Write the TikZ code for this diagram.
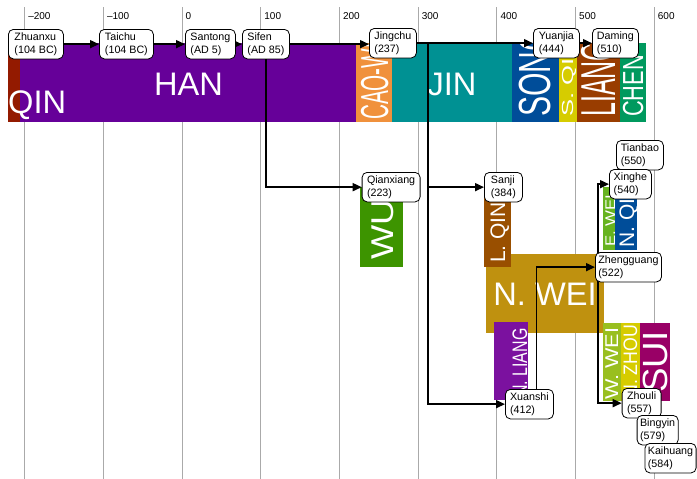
\documentclass[tikz,border=0pt]{standalone}
\usepackage{fontspec}
\setmainfont{Liberation Sans}
\usepackage{graphicx}
\usetikzlibrary{arrows.meta}
\pgfdeclarelayer{back}
\pgfdeclarelayer{mid}
\pgfsetlayers{back,mid,main}
\definecolor{cQin}{HTML}{931A00}
\definecolor{cHan}{HTML}{660099}
\definecolor{cCaoWei}{HTML}{F0913C}
\definecolor{cJin}{HTML}{009193}
\definecolor{cSong}{HTML}{004D99}
\definecolor{cSQi}{HTML}{D6CC00}
\definecolor{cLiang}{HTML}{993D00}
\definecolor{cChen}{HTML}{00995E}
\definecolor{cWu}{HTML}{3D9400}
\definecolor{cLQin}{HTML}{994F00}
\definecolor{cNWei}{HTML}{BF910F}
\definecolor{cEWei}{HTML}{66B31F}
\definecolor{cNQi}{HTML}{004D99}
\definecolor{cNLiang}{HTML}{7B119F}
\definecolor{cWWei}{HTML}{99BF1F}
\definecolor{cNZhou}{HTML}{D6CC00}
\definecolor{cSui}{HTML}{990066}
\definecolor{cGrid}{HTML}{AAAAAA}
\newcommand\vtext[6]{\begin{scope}\clip #2; \node[vt] (#1) at #3 {\fontsize{#4}{#4}\selectfont\scalebox{#5}[1]{#6}};\end{scope}}
\begin{document}
\begin{tikzpicture}[x=1pt,y=-1pt,
  grid/.style={draw=cGrid, line width=0.9pt},
  axl/.style={anchor=base west, inner sep=0pt, font=\fontsize{10}{10}\selectfont},
  big/.style={text=white, inner sep=0pt, font=\fontsize{32.6}{32.6}\selectfont},
  vt/.style={text=white, inner sep=0pt, rotate=90, anchor=base west},
  lbl/.style={draw=black, line width=0.8pt, fill=white, rounded corners=5pt, anchor=north west,
    align=left, inner xsep=3pt, inner ysep=0pt, minimum height=29.5pt,
    font=\fontsize{10.7}{12.8}\selectfont},
  conn/.style={draw=black, line width=1.6pt, -{Triangle[length=9pt,width=8pt]}}]
\useasboundingbox (0,0) rectangle (697,479);
\begin{pgfonlayer}{back}
\fill[white] (0,0) rectangle (697,479);
% grid
\foreach \x/\l [count=\i] in {24.6/{–200},103.3/{–100},182/{0},260.7/{100},339.4/{200},418.1/{300},496.8/{400},575.5/{500},654.2/{600}}{
  \draw[grid] (\x,7) -- (\x,479);
  \node[axl] (ax\i) at (\x+3.5,19.3) {\l};
}
% top row bands
\fill[cQin] (8,43) rectangle (20,122);
\fill[cHan] (20,43) rectangle (356,122);
\fill[cCaoWei] (356,43) rectangle (392,122);
\fill[cJin] (392,43) rectangle (512,122);
\fill[cSong] (512,43) rectangle (559,122);
\fill[cSQi] (559,43) rectangle (577,122);
\fill[cLiang] (577,43) rectangle (620,122);
\fill[cChen] (620,43) rectangle (646,122);
\node[big, anchor=base west] (tQin) at (8,113) {QIN};
\node[big, anchor=base] (tHan) at (188.5,95) {HAN};
\node[big, anchor=base] (tJin) at (452,95) {JIN};
\vtext{tCaoWei}{(356,43) rectangle (392,122)}{(388,120)}{39}{0.53}{CAO-WEI}
\vtext{tSong}{(512,43) rectangle (559,122)}{(550,117)}{45}{0.67}{SONG}
\vtext{tSQi}{(559,43) rectangle (577,122)}{(573,117)}{16}{1.6}{S. QI}
\vtext{tLiang}{(577,43) rectangle (620,122)}{(615,117)}{49}{0.51}{LIANG}
\vtext{tChen}{(620,43) rectangle (646,122)}{(643,117)}{29}{0.75}{CHEN}
% second row bands
\fill[cWu] (360,187) rectangle (403,267);
\vtext{tWu}{(360,187) rectangle (403,267)}{(393,260)}{31.5}{1.15}{WU}
\fill[cNWei] (486,254) rectangle (604,333);
\node[big, anchor=base] (tNWei) at (545,305) {N. WEI};
\fill[cLQin] (484,187) rectangle (511,267);
\vtext{tLQin}{(484,187) rectangle (511,267)}{(505,263)}{21}{1}{L. QIN}
\fill[cEWei] (603,187) rectangle (615,250);
\vtext{tEWei}{(603,187) rectangle (615,250)}{(615,247)}{14}{1.2}{E. WEI}
\fill[cNQi] (615,187) rectangle (637,250);
\vtext{tNQi}{(615,187) rectangle (637,250)}{(634,248)}{21}{1}{N. QI}
\fill[cNLiang] (494,322) rectangle (528,400);
\vtext{tNLiang}{(494,322) rectangle (528,400)}{(527,397)}{21}{0.76}{N. LIANG}
\fill[cWWei] (603,323) rectangle (621,401);
\vtext{tWWei}{(603,323) rectangle (621,401)}{(618,400)}{18.5}{1.17}{W. WEI}
\fill[cNZhou] (621,323) rectangle (640,401);
\vtext{tNZhou}{(621,323) rectangle (640,401)}{(637,398)}{19.5}{0.91}{N. ZHOU}
\fill[cSui] (640,323) rectangle (670,401);
\vtext{tSui}{(640,323) rectangle (670,401)}{(667,393)}{35}{1.05}{SUI}
\end{pgfonlayer}
% labels
\node[lbl, minimum width=55pt] (zhuanxu) at (8,29) {Zhuanxu\\(104 BC)};
\node[lbl, minimum width=54pt] (taichu) at (99,29) {Taichu\\(104 BC)};
\node[lbl, minimum width=50pt] (santong) at (185,29) {Santong\\(AD 5)};
\node[lbl, minimum width=47pt] (sifen) at (242,29) {Sifen\\(AD 85)};
\node[lbl, minimum width=47pt] (jingchu) at (369,28) {Jingchu\\(237)};
\node[lbl, minimum width=46pt] (yuanjia) at (533,28) {Yuanjia\\(444)};
\node[lbl, minimum width=46pt] (daming) at (592,28) {Daming\\(510)};
\node[lbl, minimum width=58pt] (qianxiang) at (361.7,172) {Qianxiang\\(223)};
\node[lbl, minimum width=38pt] (sanji) at (484,172) {Sanji\\(384)};
\node[lbl, minimum width=47pt] (tianbao) at (616,140) {Tianbao\\(550)};
\node[lbl, minimum width=42pt] (xinghe) at (609,169) {Xinghe\\(540)};
\node[lbl, minimum width=65pt] (zhengguang) at (595,252) {Zhengguang\\(522)};
\node[lbl, minimum width=48pt] (xuanshi) at (505,389) {Xuanshi\\(412)};
\node[lbl, minimum width=39pt] (zhouli) at (621.7,388) {Zhouli\\(557)};
\node[lbl, minimum width=41pt] (bingyin) at (636.7,415) {Bingyin\\(579)};
\node[lbl, minimum width=50pt] (kaihuang) at (644.5,443) {Kaihuang\\(584)};
% connectors
\begin{pgfonlayer}{mid}
\draw[conn] (zhuanxu.east) -- (taichu.west);
\draw[conn] (taichu.east) -- (santong.west);
\draw[conn] (santong.east) -- (sifen.west);
\draw[conn] (sifen.east) -- (sifen.east -| jingchu.west);
\draw[conn] (sifen.south) |- (qianxiang.west);
\draw[conn] (jingchu.east) -- (jingchu.east -| yuanjia.west);
\draw[conn] (jingchu.east) -- ++(11,0) |- (sanji.west);
\draw[conn] (jingchu.east) -- ++(11,0) |- (xuanshi.west);
\draw[conn] (yuanjia.east) -- (daming.west);
\draw[conn] ([xshift=7pt]xuanshi.north) |- (zhengguang.west);
\draw[conn] ([xshift=3pt]zhengguang.west) |- (xinghe.west);
\draw[conn] ([xshift=3pt]zhengguang.west) |- (zhouli.west);
\end{pgfonlayer}
\end{tikzpicture}
\end{document}
